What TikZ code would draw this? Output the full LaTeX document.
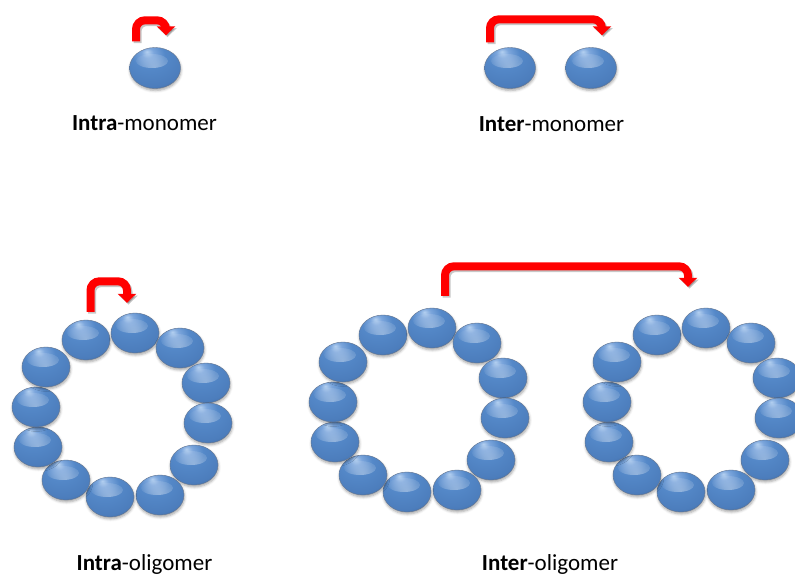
\documentclass[tikz,border=0pt]{standalone}
\usepackage{fontspec}
\setmainfont{Carlito}
\usetikzlibrary{arrows.meta,shapes.geometric,shadows.blur,fadings,calc}

\definecolor{beadhi}{RGB}{180,208,240}
\definecolor{beadlt}{RGB}{124,166,220}
\definecolor{beadmid}{RGB}{84,136,200}
\definecolor{beadbase}{RGB}{76,125,188}
\definecolor{beaddk}{RGB}{58,98,152}
\definecolor{beadrim}{RGB}{34,60,98}
\definecolor{hookred}{RGB}{255,0,0}

% glossy bead: highlight up and to the left, darker rim
\pgfdeclareradialshading{beadball}{\pgfpoint{-8bp}{20bp}}{%
  color(0bp)=(beadhi);
  color(6bp)=(beadlt);
  color(16bp)=(beadmid);
  color(33bp)=(beadbase);
  color(43bp)=(beaddk);
  color(50bp)=(beadrim);
  color(72bp)=(beadrim)}

\tikzfading[name=glint, inner color=transparent!62, outer color=transparent!100]

\tikzset{
  bead/.style={ellipse, inner sep=0pt, minimum width=48pt, minimum height=40pt,
    shading=beadball, draw=beadrim!70, line width=0.4pt,
    path picture={\fill[white, path fading=glint]
      ([shift={(-3pt,7pt)}]path picture bounding box.center) ellipse (16pt and 7pt);},
    blur shadow={shadow xshift=0.5pt, shadow yshift=-2pt,
      shadow blur radius=2.5pt, shadow opacity=35}},
  bigbead/.style={bead, minimum width=51pt, minimum height=41pt},
  hook/.style={draw=hookred, line width=8pt, rounded corners=9pt,
    -{Triangle[width=18pt,length=9pt]}},
  hookshade/.style={draw=black, opacity=0.22, line width=8pt, rounded corners=9pt,
    -{Triangle[width=18pt,length=9pt]}},
  caption/.style={font=\fontsize{23}{27}\selectfont, inner sep=0pt, anchor=base},
}

% a ring of twelve beads around (#2); bead k is named #1k
\newcommand{\beadring}[2]{%
  \foreach \k/\dx/\dy in {1/-36/-75, 2/13/-82, 3/58/-67, 4/84/-32, 5/86/8,
      6/72/50, 7/38/80, 8/-12/82, 9/-56/65, 10/-84/32, 11/-86/-8, 12/-76/-48}
    \node[bead] (#1\k) at ($(#2)+(\dx,\dy)$) {};}

\begin{document}
\begin{tikzpicture}[x=1pt,y=-1pt]
\useasboundingbox (0,0) rectangle (795,576);

% monomers
\node[bigbead] (ma) at (155,68) {};
\node[bigbead] (mb) at (510,68) {};
\node[bigbead] (mc) at (591,68) {};

% oligomer rings
\coordinate (ringA) at (122,415);
\coordinate (ringB) at (419,410);
\coordinate (ringC) at (693,410);
\beadring{ra}{ringA}
\beadring{rb}{ringB}
\beadring{rc}{ringC}

% hop start and end points above the beads
\coordinate (h1s) at ([shift={(-19,-6)}]ma.north);
\coordinate (h1e) at ([shift={(11,-12)}]ma.north);
\coordinate (h2s) at ([shift={(-20,-5)}]mb.north);
\coordinate (h2e) at ([shift={(11,-12)}]mc.north);
\coordinate (h3s) at ([shift={(4.5,-8)}]ra1.north);
\coordinate (h3e) at ([shift={(-8,-10)}]ra2.north);
\coordinate (h4s) at ([shift={(13,-12)}]rb2.north);
\coordinate (h4e) at ([shift={(-18,-21)}]rc2.north);

% soft shadows of the hops
\begin{scope}[transform canvas={shift={(1.5pt,-1.8pt)}}]
  \draw[hookshade] (h1s) -- ++(0,-21) -| (h1e);
  \draw[hookshade] (h2s) -- ++(0,-23) -| (h2e);
  \draw[hookshade] (h3s) -- ++(0,-30.5) -| (h3e);
  \draw[hookshade] (h4s) -- ++(0,-29.5) -| (h4e);
\end{scope}

% hops
\draw[hook] (h1s) -- ++(0,-21) -| (h1e);
\draw[hook] (h2s) -- ++(0,-23) -| (h2e);
\draw[hook] (h3s) -- ++(0,-30.5) -| (h3e);
\draw[hook] (h4s) -- ++(0,-29.5) -| (h4e);

% captions
\node[caption] (t1) at (144.5,130.5) {\textbf{Intra}-monomer};
\node[caption] (t2) at (551.5,131) {\textbf{Inter}-monomer};
\node[caption] (t3) at (144.5,570) {\textbf{Intra}-oligomer};
\node[caption] (t4) at (550,570) {\textbf{Inter}-oligomer};
\end{tikzpicture}
\end{document}
